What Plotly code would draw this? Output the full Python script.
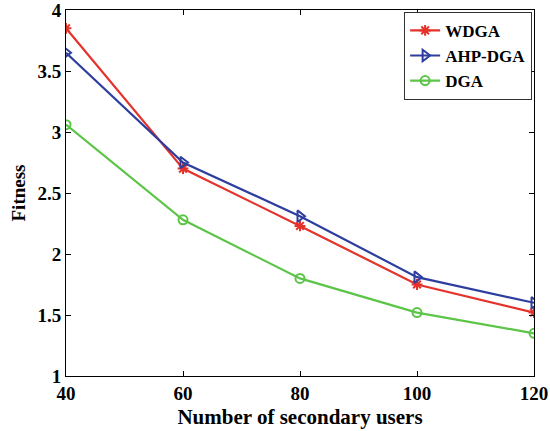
import plotly.graph_objects as go

users = [40, 60, 80, 100, 120]
wdga = [3.85, 2.70, 2.23, 1.75, 1.52]
ahp_dga = [3.65, 2.75, 2.31, 1.81, 1.60]
dga = [3.06, 2.28, 1.80, 1.52, 1.35]

series_names = ["WDGA", "AHP-DGA", "DGA"]
colors = ["#e5322a", "#2e3e9e", "#5cc548"]
symbols = ["asterisk-open", "triangle-right-open", "circle-open"]
sizes = [9, 10, 9]

fig = go.Figure()
for name, vals, col, sym, sz in zip(series_names, [wdga, ahp_dga, dga], colors, symbols, sizes):
    fig.add_trace(go.Scatter(
        x=users, y=vals, name=name, mode="lines+markers",
        line=dict(color=col, width=2.2),
        marker=dict(symbol=sym, size=sz, color=col, line=dict(color=col, width=2)),
    ))

font_family = "Liberation Serif"
fig.update_layout(
    width=550, height=431,
    margin=dict(l=66, r=16, t=10, b=55),
    paper_bgcolor="white", plot_bgcolor="white",
    font=dict(family=font_family, size=17, color="black", weight="bold"),
    legend=dict(
        x=0.996, y=0.995, xanchor="right", yanchor="top",
        bordercolor="#333333", borderwidth=1, bgcolor="white",
        font=dict(family=font_family, size=17, color="black", weight="bold"),
        tracegroupgap=0, itemwidth=30,
    ),
    showlegend=True,
)
fig.update_xaxes(
    range=[40, 120], tick0=40, dtick=20, automargin=False, ticklabeloverflow="allow",
    showline=True, linecolor="black", linewidth=1, mirror="ticks",
    ticks="inside", ticklen=5, tickcolor="black",
    showgrid=False, zeroline=False,
    title=dict(text="Number of secondary users", standoff=6,
               font=dict(family=font_family, size=21, weight="bold")),
    tickfont=dict(family=font_family, size=19, weight="bold"),
)
fig.update_yaxes(
    range=[1, 4], tick0=1, dtick=0.5, automargin=False, ticklabeloverflow="allow",
    showline=True, linecolor="black", linewidth=1, mirror="ticks",
    ticks="inside", ticklen=5, tickcolor="black",
    showgrid=False, zeroline=False,
    title=dict(text="Fitness", standoff=6,
               font=dict(family=font_family, size=19, weight="bold")),
    tickfont=dict(family=font_family, size=19, weight="bold"),
)

fig.write_html("out.html", config={"displayModeBar": False},
               post_script="document.body.style.margin='0px';document.body.style.overflow='hidden';")
